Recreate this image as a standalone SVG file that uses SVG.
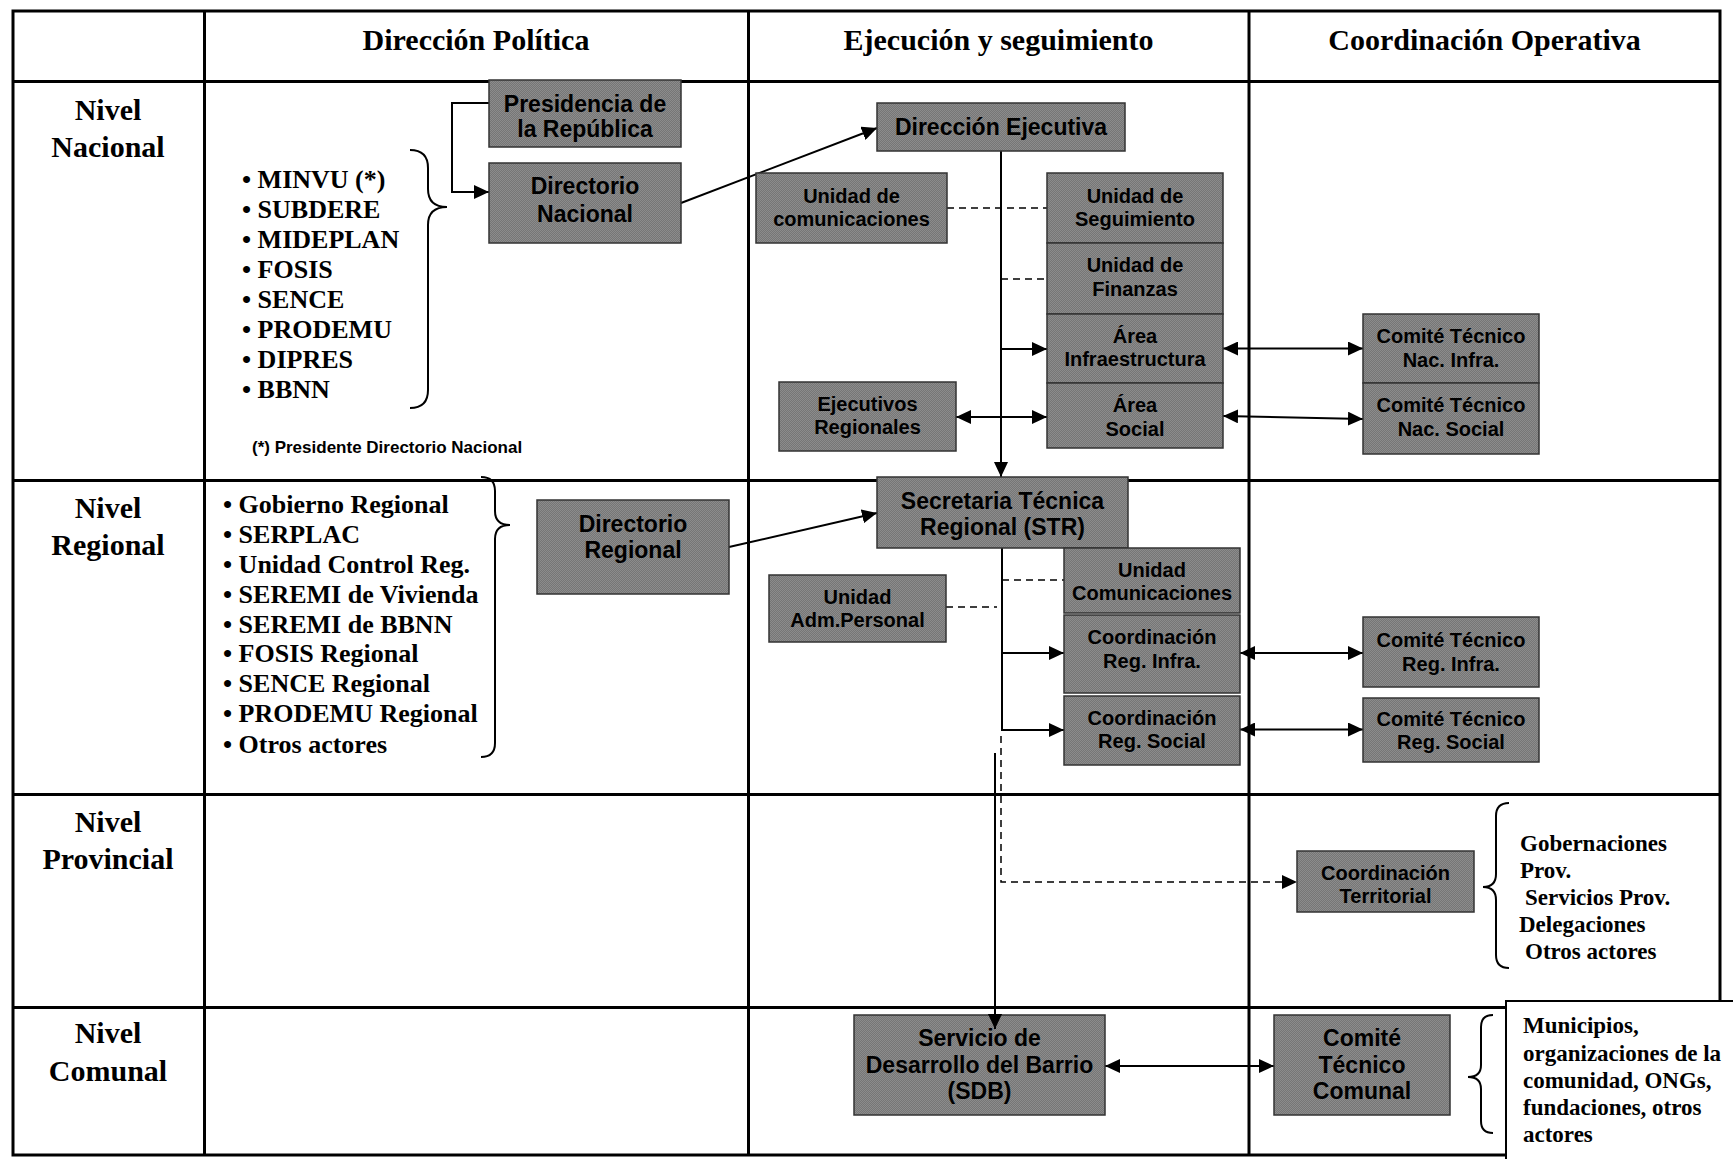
<svg xmlns="http://www.w3.org/2000/svg" width="1733" height="1159" viewBox="0 0 1733 1159">
<style>
.box{fill:url(#chk);stroke:#333;stroke-width:1.5}
.bt{font-family:"Liberation Sans",Arial,sans-serif;font-weight:bold;text-anchor:middle;fill:#000}
.big{font-size:23px}
.sm{font-size:20px}
.tr{font-family:"Liberation Serif","Times New Roman",serif;font-weight:bold;fill:#000}
.hd{font-size:30px;text-anchor:middle}
.lst{font-size:26px}
.rl{font-size:23px}
.grid{stroke:#000;stroke-width:3;fill:none}
.ln{stroke:#000;stroke-width:2;fill:none}
.dash{stroke:#000;stroke-width:1.5;stroke-dasharray:7 5;fill:none}
.br{stroke:#000;stroke-width:2;fill:none}
</style>
<defs>
<pattern id="chk" width="2" height="2" patternUnits="userSpaceOnUse">
<rect width="2" height="2" fill="#767676"/>
<rect width="1" height="1" fill="#8c8c8c"/>
<rect x="1" y="1" width="1" height="1" fill="#8c8c8c"/>
</pattern>
<marker id="ah" viewBox="0 0 15 14" refX="15" refY="7" markerWidth="15" markerHeight="14" markerUnits="userSpaceOnUse" orient="auto-start-reverse">
<path d="M0,0 L15,7 L0,14 z" fill="#000"/>
</marker>
</defs>
<rect x="0" y="0" width="1733" height="1159" fill="#fff"/>
<g id="grid">
<rect class="grid" x="13" y="11" width="1707" height="1144"/>
<line class="grid" x1="204.5" y1="11" x2="204.5" y2="1155"/>
<line class="grid" x1="748.5" y1="11" x2="748.5" y2="1155"/>
<line class="grid" x1="1249" y1="11" x2="1249" y2="1155"/>
<line class="grid" x1="13" y1="81.5" x2="1720" y2="81.5"/>
<line class="grid" x1="13" y1="480.5" x2="1720" y2="480.5"/>
<line class="grid" x1="13" y1="794.5" x2="1720" y2="794.5"/>
<line class="grid" x1="13" y1="1007.5" x2="1720" y2="1007.5"/>
</g>
<g id="headers">
<text class="tr hd" x="476" y="50">Dirección Política</text>
<text class="tr hd" x="998.5" y="50">Ejecución y seguimiento</text>
<text class="tr hd" x="1484.5" y="50">Coordinación Operativa</text>
<text class="tr hd" x="108"><tspan x="108" y="120">Nivel</tspan><tspan x="108" y="157">Nacional</tspan></text>
<text class="tr hd" x="108"><tspan x="108" y="518">Nivel</tspan><tspan x="108" y="555">Regional</tspan></text>
<text class="tr hd" x="108"><tspan x="108" y="832">Nivel</tspan><tspan x="108" y="869">Provincial</tspan></text>
<text class="tr hd" x="108"><tspan x="108" y="1043">Nivel</tspan><tspan x="108" y="1081">Comunal</tspan></text>
</g>
<g id="lists">
<text class="tr lst">
<tspan x="242" y="188">• MINVU (*)</tspan>
<tspan x="242" y="218">• SUBDERE</tspan>
<tspan x="242" y="248">• MIDEPLAN</tspan>
<tspan x="242" y="278">• FOSIS</tspan>
<tspan x="242" y="308">• SENCE</tspan>
<tspan x="242" y="338">• PRODEMU</tspan>
<tspan x="242" y="368">• DIPRES</tspan>
<tspan x="242" y="398">• BBNN</tspan>
</text>
<text class="bt" x="252" y="453" style="font-size:17px;text-anchor:start">(*) Presidente Directorio Nacional</text>
<text class="tr lst">
<tspan x="223" y="513">• Gobierno Regional</tspan>
<tspan x="223" y="543">• SERPLAC</tspan>
<tspan x="223" y="573">• Unidad Control Reg.</tspan>
<tspan x="223" y="603">• SEREMI de Vivienda</tspan>
<tspan x="223" y="633">• SEREMI de BBNN</tspan>
<tspan x="223" y="662">• FOSIS Regional</tspan>
<tspan x="223" y="692">• SENCE Regional</tspan>
<tspan x="223" y="722">• PRODEMU Regional</tspan>
<tspan x="223" y="753">• Otros actores</tspan>
</text>
<text class="tr rl">
<tspan x="1520" y="851">Gobernaciones</tspan>
<tspan x="1520" y="878">Prov.</tspan>
<tspan x="1525" y="905">Servicios Prov.</tspan>
<tspan x="1519" y="932">Delegaciones</tspan>
<tspan x="1525" y="959">Otros actores</tspan>
</text>
<path class="br" d="M410,150 Q428,150 428,168 L428,189 Q428,207 447,207 Q428,207 428,225 L428,390 Q428,408 410,408"/>
<path class="br" d="M481,477 Q495,477 495,491 L495,511 Q495,525 510,525 Q495,525 495,539 L495,743 Q495,757 481,757"/>
<path class="br" d="M1509,803 Q1496,803 1496,816 L1496,874 Q1496,887 1483,887 Q1496,887 1496,900 L1496,955 Q1496,968 1509,968"/>
<path class="br" d="M1493,1015 Q1481,1015 1481,1027 L1481,1065 Q1481,1077 1468,1077 Q1481,1077 1481,1089 L1481,1121 Q1481,1133 1493,1133"/>
<rect x="1506" y="1001" width="240" height="170" fill="#fff" stroke="#000" stroke-width="2"/>
<text class="tr rl">
<tspan x="1523" y="1033">Municipios,</tspan>
<tspan x="1523" y="1061">organizaciones de la</tspan>
<tspan x="1523" y="1088">comunidad, ONGs,</tspan>
<tspan x="1523" y="1115">fundaciones, otros</tspan>
<tspan x="1523" y="1142">actores</tspan>
</text>
</g>
<g id="connectors">
<path class="ln" d="M489,103 H452 V192 H489" marker-end="url(#ah)"/>
<line class="ln" x1="681" y1="203" x2="877" y2="128" marker-end="url(#ah)"/>
<line class="ln" x1="1001" y1="151" x2="1001" y2="477" marker-end="url(#ah)"/>
<line class="dash" x1="947" y1="208" x2="1047" y2="208"/>
<line class="dash" x1="1001" y1="279" x2="1047" y2="279"/>
<line class="ln" x1="1001" y1="349" x2="1047" y2="349" marker-end="url(#ah)"/>
<line class="ln" x1="956" y1="417" x2="1047" y2="417" marker-start="url(#ah)" marker-end="url(#ah)"/>
<line class="ln" x1="1223" y1="348.5" x2="1363" y2="348.5" marker-start="url(#ah)" marker-end="url(#ah)"/>
<line class="ln" x1="1223" y1="416" x2="1363" y2="419" marker-start="url(#ah)" marker-end="url(#ah)"/>
<line class="ln" x1="729" y1="547" x2="877" y2="513" marker-end="url(#ah)"/>
<path class="ln" d="M1002,548 V730 H1064" marker-end="url(#ah)"/>
<line class="ln" x1="1002" y1="653" x2="1064" y2="653" marker-end="url(#ah)"/>
<line class="dash" x1="1002" y1="580" x2="1064" y2="580"/>
<line class="dash" x1="946" y1="607" x2="997" y2="607"/>
<line class="ln" x1="1240" y1="653" x2="1363" y2="653" marker-start="url(#ah)" marker-end="url(#ah)"/>
<line class="ln" x1="1240" y1="729.5" x2="1363" y2="729.5" marker-start="url(#ah)" marker-end="url(#ah)"/>
<path class="dash" d="M1001,736 V882 H1297" marker-end="url(#ah)"/>
<line class="ln" x1="995" y1="753" x2="995" y2="1029" marker-end="url(#ah)"/>
<line class="ln" x1="1105" y1="1066" x2="1274" y2="1066" marker-start="url(#ah)" marker-end="url(#ah)"/>
</g>
<g id="presidencia"><rect class="box" x="489" y="80" width="192" height="67"/><text class="bt big"><tspan x="585" y="111.5">Presidencia de</tspan><tspan x="585" y="137">la República</tspan></text></g>
<g id="directorio-nacional"><rect class="box" x="489" y="163" width="192" height="80"/><text class="bt big"><tspan x="585" y="194">Directorio</tspan><tspan x="585" y="221.5">Nacional</tspan></text></g>
<g id="direccion-ejecutiva"><rect class="box" x="877" y="103" width="248" height="48"/><text class="bt big" x="1001" y="135">Dirección Ejecutiva</text></g>
<g id="unidad-comunicaciones"><rect class="box" x="756" y="173" width="191" height="70"/><text class="bt sm"><tspan x="851.5" y="203">Unidad de</tspan><tspan x="851.5" y="226">comunicaciones</tspan></text></g>
<g id="unidad-seguimiento"><rect class="box" x="1047" y="173" width="176" height="70"/><text class="bt sm"><tspan x="1135" y="203">Unidad de</tspan><tspan x="1135" y="226">Seguimiento</tspan></text></g>
<g id="unidad-finanzas"><rect class="box" x="1047" y="243" width="176" height="71"/><text class="bt sm"><tspan x="1135" y="272">Unidad de</tspan><tspan x="1135" y="295.5">Finanzas</tspan></text></g>
<g id="area-infraestructura"><rect class="box" x="1047" y="314" width="176" height="69"/><text class="bt sm"><tspan x="1135" y="342.5">Área</tspan><tspan x="1135" y="366">Infraestructura</tspan></text></g>
<g id="area-social"><rect class="box" x="1047" y="383" width="176" height="65"/><text class="bt sm"><tspan x="1135" y="412">Área</tspan><tspan x="1135" y="436">Social</tspan></text></g>
<g id="ejecutivos-regionales"><rect class="box" x="779" y="382" width="177" height="69"/><text class="bt sm"><tspan x="867.5" y="411">Ejecutivos</tspan><tspan x="867.5" y="433.5">Regionales</tspan></text></g>
<g id="comite-nac-infra"><rect class="box" x="1363" y="314" width="176" height="69"/><text class="bt sm"><tspan x="1451" y="343">Comité Técnico</tspan><tspan x="1451" y="366.5">Nac. Infra.</tspan></text></g>
<g id="comite-nac-social"><rect class="box" x="1363" y="383" width="176" height="71"/><text class="bt sm"><tspan x="1451" y="412">Comité Técnico</tspan><tspan x="1451" y="436">Nac. Social</tspan></text></g>
<g id="directorio-regional"><rect class="box" x="537" y="500" width="192" height="94"/><text class="bt big"><tspan x="633" y="531.5">Directorio</tspan><tspan x="633" y="558">Regional</tspan></text></g>
<g id="str"><rect class="box" x="877" y="477" width="251" height="71"/><text class="bt big"><tspan x="1002.5" y="509">Secretaria Técnica</tspan><tspan x="1002.5" y="535">Regional (STR)</tspan></text></g>
<g id="unidad-comunicaciones-reg"><rect class="box" x="1064" y="548" width="176" height="65"/><text class="bt sm"><tspan x="1152" y="577">Unidad</tspan><tspan x="1152" y="599.5">Comunicaciones</tspan></text></g>
<g id="coord-reg-infra"><rect class="box" x="1064" y="615" width="176" height="78"/><text class="bt sm"><tspan x="1152" y="643.5">Coordinación</tspan><tspan x="1152" y="667.5">Reg. Infra.</tspan></text></g>
<g id="coord-reg-social"><rect class="box" x="1064" y="696" width="176" height="69"/><text class="bt sm"><tspan x="1152" y="725">Coordinación</tspan><tspan x="1152" y="747.5">Reg. Social</tspan></text></g>
<g id="unidad-adm-personal"><rect class="box" x="769" y="575" width="177" height="67"/><text class="bt sm"><tspan x="857.5" y="604">Unidad</tspan><tspan x="857.5" y="627">Adm.Personal</tspan></text></g>
<g id="comite-reg-infra"><rect class="box" x="1363" y="617" width="176" height="70"/><text class="bt sm"><tspan x="1451" y="646.5">Comité Técnico</tspan><tspan x="1451" y="670.5">Reg. Infra.</tspan></text></g>
<g id="comite-reg-social"><rect class="box" x="1363" y="698" width="176" height="64"/><text class="bt sm"><tspan x="1451" y="726">Comité Técnico</tspan><tspan x="1451" y="749">Reg. Social</tspan></text></g>
<g id="coordinacion-territorial"><rect class="box" x="1297" y="851" width="177" height="61"/><text class="bt sm"><tspan x="1385.5" y="880">Coordinación</tspan><tspan x="1385.5" y="903">Territorial</tspan></text></g>
<g id="sdb"><rect class="box" x="854" y="1015" width="251" height="100"/><text class="bt big"><tspan x="979.5" y="1046">Servicio de</tspan><tspan x="979.5" y="1073">Desarrollo del Barrio</tspan><tspan x="979.5" y="1099">(SDB)</tspan></text></g>
<g id="comite-comunal"><rect class="box" x="1274" y="1015" width="176" height="100"/><text class="bt big"><tspan x="1362" y="1046">Comité</tspan><tspan x="1362" y="1073">Técnico</tspan><tspan x="1362" y="1099">Comunal</tspan></text></g>
<line class="ln" x1="995" y1="1015" x2="995" y2="1029" marker-end="url(#ah)"/>
</svg>
